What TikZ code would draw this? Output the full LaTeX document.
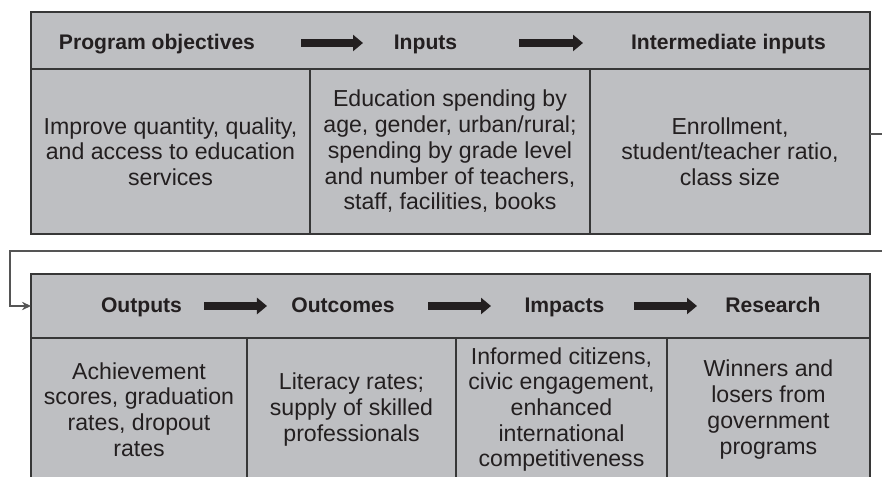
\documentclass[tikz,border=0pt]{standalone}
\usepackage{fontspec}
\setmainfont{Liberation Sans}
\usetikzlibrary{arrows.meta}

\definecolor{boxGray}{RGB}{190,191,194}
\definecolor{lineGray}{RGB}{55,55,55}
\definecolor{linkGray}{RGB}{85,85,85}
\definecolor{inkColor}{RGB}{35,31,32}

\begin{document}
\begin{tikzpicture}[
    x=0.5bp, y=-0.5bp,
    % cells of the two tables
    cellbox/.style={draw=lineGray, fill=boxGray, line width=0.65bp, inner sep=0pt, outer sep=0pt,
        text=inkColor, align=center, font=\fontsize{11.6}{12.9}\selectfont},
    headtext/.style={text=inkColor, inner sep=0pt, anchor=base, font=\fontsize{10.6}{12}\selectfont\bfseries},
    bararrow/.style={inkColor, line width=3.6bp, -{Triangle[length=5bp, width=8bp]}},
    link/.style={linkGray, line width=0.65bp, -{Stealth[length=4.5bp, width=4.2bp]}}
]
    \path[use as bounding box] (0,0) rectangle (882,477);
    \clip (0,0) rectangle (882,477);

    % --- TOP TABLE ---
    \node[cellbox, minimum width=419.5bp, minimum height=28.5bp] (topHdr) at (450.5,40.5) {};
    \node[cellbox, minimum width=139.5bp, minimum height=82.5bp] (objCell) at (170.5,151.5)
        {Improve quantity, quality,\\ and access to education\\ services};
    \node[cellbox, minimum width=140bp, minimum height=82.5bp] (inpCell) at (450,151.5)
        {Education spending by\\ age, gender, urban/rural;\\ spending by grade level\\ and number of teachers,\\ staff, facilities, books};
    \node[cellbox, minimum width=140bp, minimum height=82.5bp] (intCell) at (730,151.5)
        {Enrollment,\\ student/teacher ratio,\\ class size};

    \node[headtext] (objHdr) at (157,50) {Program objectives};
    \node[headtext] (inpHdr) at (425.5,50) {Inputs};
    \node[headtext] (intHdr) at (728.5,50) {Intermediate inputs};

    \draw[bararrow] ([xshift=72bp,yshift=3.5bp]objHdr.base) -- ([xshift=-31.25bp,yshift=3.5bp]inpHdr.base);
    \draw[bararrow] ([xshift=46.75bp,yshift=3.5bp]inpHdr.base) -- ([xshift=-72.75bp,yshift=3.5bp]intHdr.base);

    % --- BOTTOM TABLE ---
    \node[cellbox, minimum width=419.5bp, minimum height=32bp] (botHdr) at (450.5,306) {};
    \node[cellbox, minimum width=108bp, minimum height=71.5bp] (outCell) at (139,409.5)
        {Achievement\\ scores, graduation\\ rates, dropout\\ rates};
    \node[cellbox, minimum width=104.5bp, minimum height=71.5bp] (ocmCell) at (351.5,409.5)
        {Literacy rates;\\ supply of skilled\\ professionals};
    \node[cellbox, minimum width=105.5bp, minimum height=71.5bp] (impCell) at (561.5,409.5)
        {Informed citizens,\\ civic engagement,\\ enhanced\\ international\\ competitiveness};
    \node[cellbox, minimum width=101.5bp, minimum height=71.5bp] (resCell) at (768.5,409.5)
        {Winners and\\ losers from\\ government\\ programs};

    \node[headtext] (outHdr) at (141.5,313) {Outputs};
    \node[headtext] (ocmHdr) at (343,313) {Outcomes};
    \node[headtext] (impHdr) at (564.5,313) {Impacts};
    \node[headtext] (resHdr) at (773,313) {Research};

    \draw[bararrow] ([xshift=31.25bp,yshift=3.5bp]outHdr.base) -- ([xshift=-38bp,yshift=3.5bp]ocmHdr.base);
    \draw[bararrow] ([xshift=42.5bp,yshift=3.5bp]ocmHdr.base) -- ([xshift=-36.75bp,yshift=3.5bp]impHdr.base);
    \draw[bararrow] ([xshift=34.75bp,yshift=3.5bp]impHdr.base) -- ([xshift=-38bp,yshift=3.5bp]resHdr.base);

    % --- LINK FROM TOP TABLE TO BOTTOM TABLE ---
    \coordinate (bend) at (10,251);
    \draw[link] ([yshift=8.75bp]intCell.east) -- ++(13,0) |- (bend) |- (botHdr.west);

\end{tikzpicture}
\end{document}
